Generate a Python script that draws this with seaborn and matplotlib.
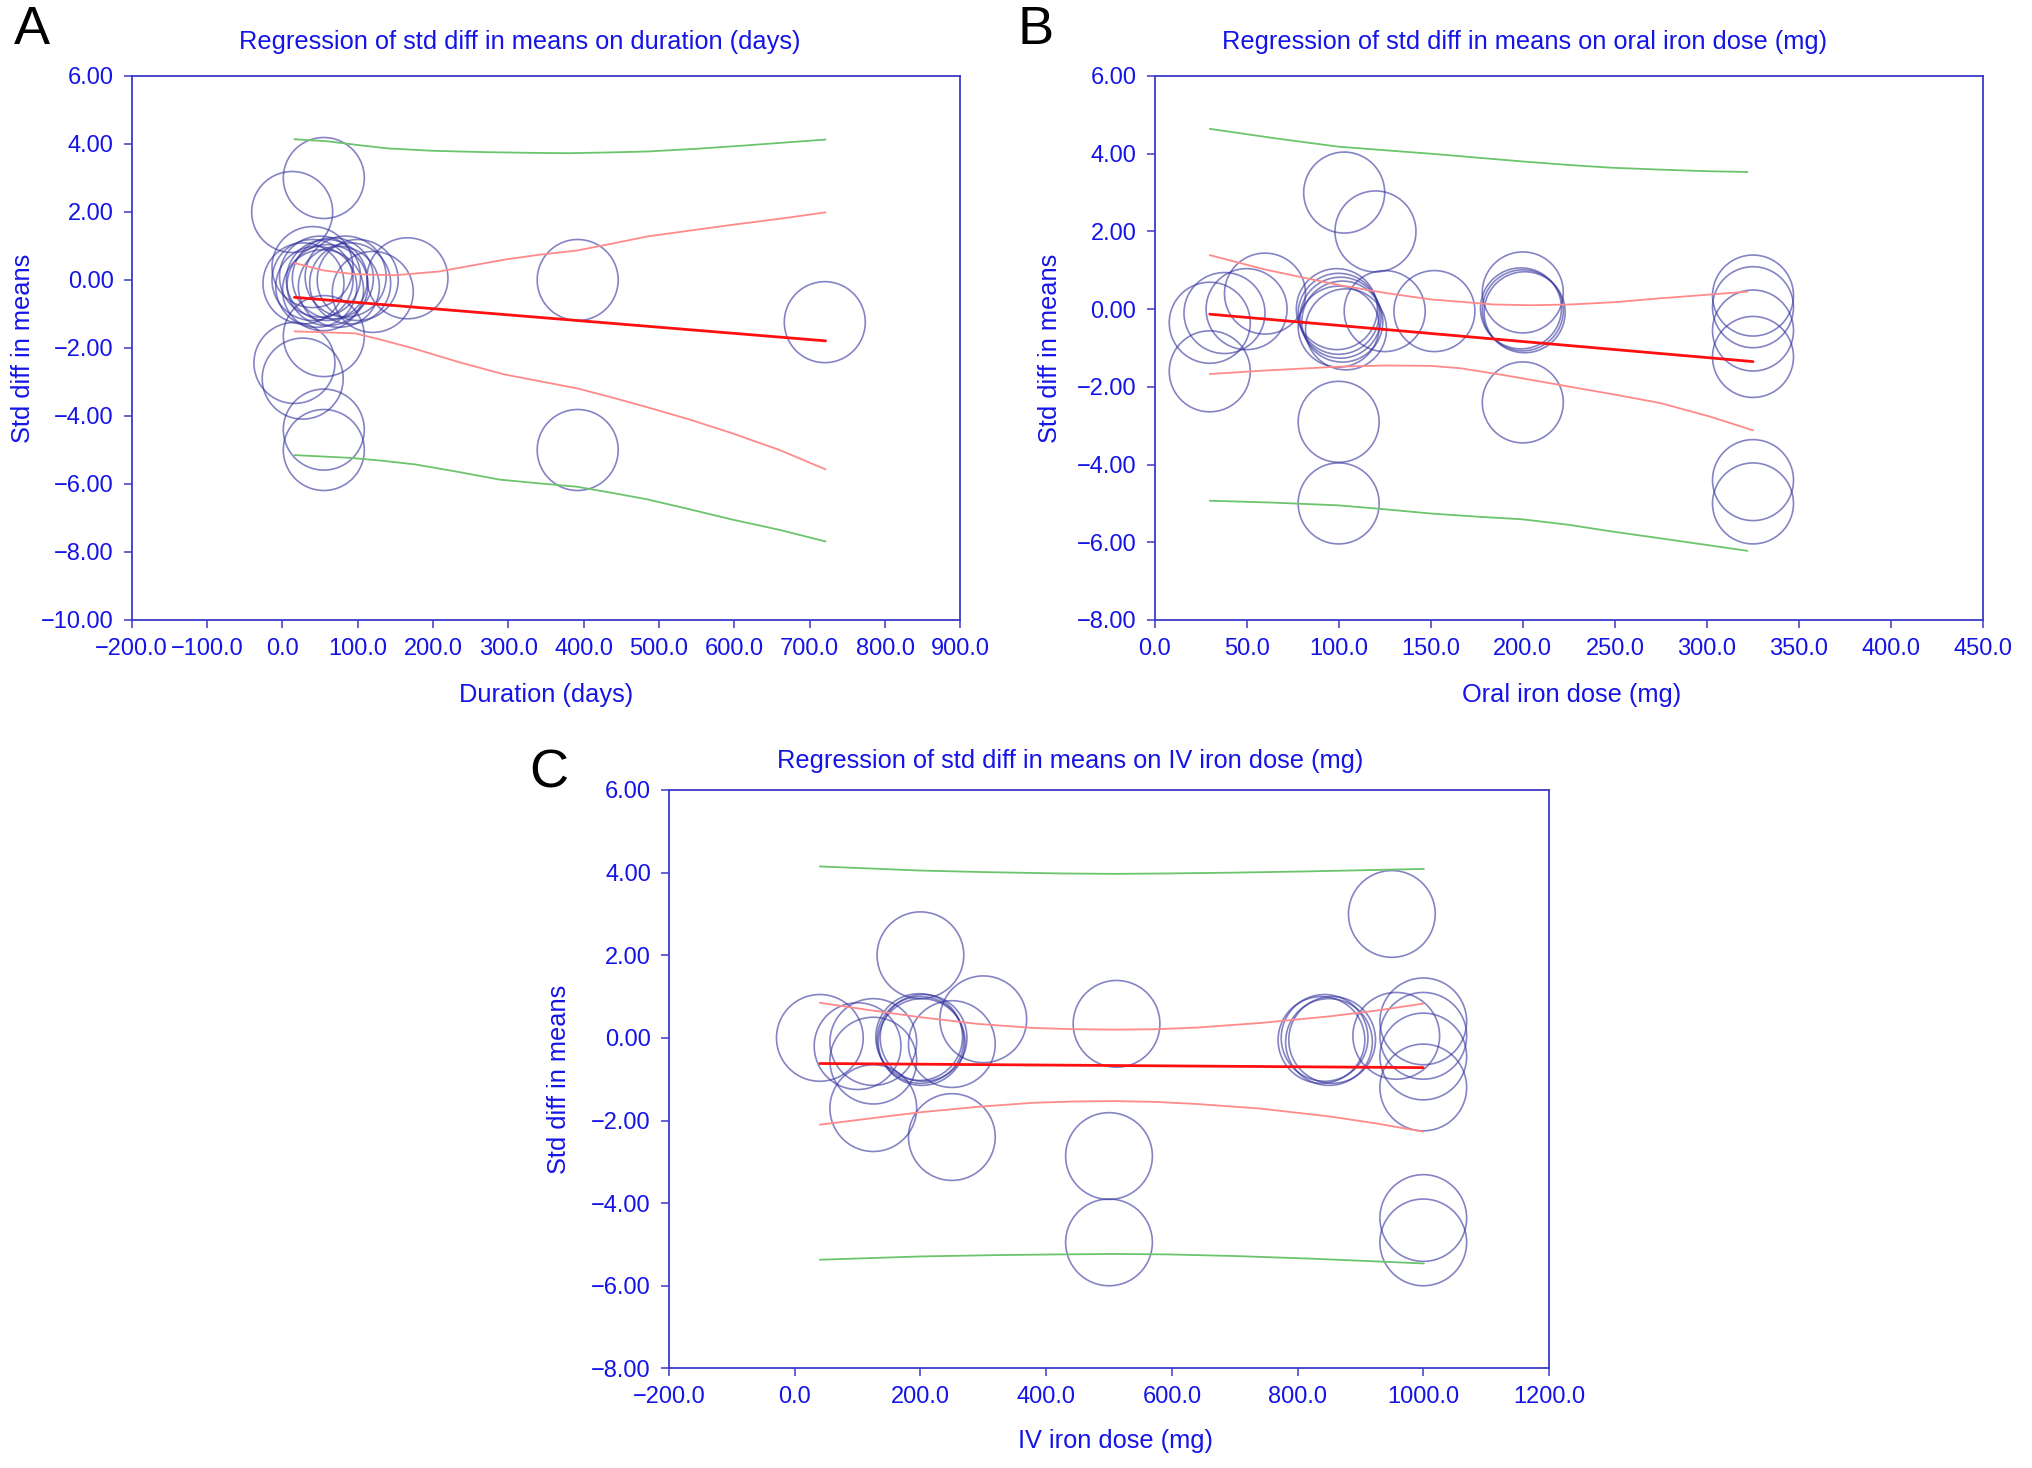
import numpy as np
import pandas as pd
import matplotlib
matplotlib.use("Agg")
import matplotlib.pyplot as plt
from matplotlib.ticker import FuncFormatter
import seaborn as sns

# ---- Panel A: duration (days) ----
dur_x = [13, 55, 28, 40, 40, 45, 50, 54, 59, 60, 67, 75, 84, 90, 100, 120,
         166, 392, 720, 55, 16, 27, 55, 55, 392]
dur_y = [2.0, 3.0, -0.1, 0.38, 0.0, -0.2, 0.1, -0.3, 0.0, -0.15, 0.05, -0.2, 0.1, -0.1, 0.0, -0.35,
         0.05, 0.0, -1.24, -1.65, -2.44, -2.9, -4.4, -5.0, -5.0]
dur_fit_x = [16, 721]
dur_fit_y = [-0.51, -1.79]
dur_ci_x = [16, 55, 97, 149, 208, 250, 295, 340, 392, 440, 484, 540, 596, 660, 721]
dur_ci_hi = [0.5, 0.28, 0.17, 0.14, 0.25, 0.42, 0.6, 0.74, 0.87, 1.08, 1.28, 1.45, 1.62, 1.8, 1.99]
dur_ci_lo_x = [16, 97, 135, 175, 235, 295, 340, 392, 440, 484, 540, 596, 660, 721]
dur_ci_lo = [-1.51, -1.57, -1.78, -2.02, -2.42, -2.78, -2.97, -3.19, -3.47, -3.74, -4.1, -4.5, -5.0, -5.57]
dur_pi_hi_x = [16, 60, 100, 140, 200, 270, 330, 380, 430, 485, 550, 610, 665, 721]
dur_pi_hi = [4.14, 4.08, 3.97, 3.87, 3.8, 3.76, 3.74, 3.73, 3.75, 3.78, 3.86, 3.95, 4.04, 4.13]
dur_pi_lo_x = [16, 89, 130, 175, 230, 288, 340, 391, 440, 484, 540, 596, 660, 721]
dur_pi_lo = [-5.15, -5.23, -5.31, -5.42, -5.63, -5.87, -5.98, -6.08, -6.27, -6.45, -6.74, -7.04, -7.35, -7.69]

# ---- Panel B: oral iron dose (mg) ----
oral_x = [30, 30, 38, 50, 60, 99, 100, 101, 102, 100, 104, 103, 120, 100, 100,
          125, 152, 200, 199, 200, 201, 200, 325, 325, 325, 325, 325, 325]
oral_y = [-0.35, -1.6, -0.1, 0.0, 0.4, 0.0, -0.12, -0.22, -0.32, -0.45, -0.52, 3.0, 2.0, -2.9, -5.0,
          -0.05, -0.05, 0.43, 0.02, -0.03, -0.08, -2.4, 0.35, 0.05, -0.55, -1.23, -4.4, -5.0]
oral_fit_x = [30, 325]
oral_fit_y = [-0.13, -1.35]
oral_ci_x = [30, 60, 100, 125, 150, 166, 184, 205, 226, 250, 275, 300, 322]
oral_ci_hi = [1.39, 1.02, 0.62, 0.42, 0.25, 0.19, 0.12, 0.1, 0.12, 0.18, 0.28, 0.37, 0.45]
oral_ci_lo_x = [30, 60, 100, 125, 150, 166, 190, 220, 250, 275, 302, 325]
oral_ci_lo = [-1.67, -1.58, -1.48, -1.45, -1.46, -1.52, -1.7, -1.95, -2.2, -2.42, -2.77, -3.12]
oral_pi_x = [30, 65, 100, 125, 150, 175, 200, 225, 248, 275, 300, 322]
oral_pi_hi = [4.64, 4.4, 4.18, 4.09, 4.0, 3.9, 3.8, 3.71, 3.64, 3.59, 3.55, 3.53]
oral_pi_lo = [-4.93, -4.98, -5.05, -5.15, -5.26, -5.34, -5.41, -5.55, -5.72, -5.9, -6.07, -6.22]

# ---- Panel C: IV iron dose (mg) ----
iv_x = [40, 100, 125, 125, 125, 200, 198, 200, 202, 205, 250, 300, 250, 512, 500, 500,
        838, 843, 850, 855, 950, 957, 1000, 1000, 1000, 1000, 1000, 1000]
iv_y = [0.0, -0.2, -0.1, -0.55, -1.7, 2.0, 0.02, -0.05, -0.1, 0.0, -0.15, 0.45, -2.4, 0.34, -2.86, -4.95,
        -0.05, 0.0, -0.1, -0.05, 3.0, 0.05, 0.4, 0.05, -0.45, -1.2, -4.36, -4.95]
iv_fit_x = [40, 1000]
iv_fit_y = [-0.62, -0.72]
iv_ci_x = [40, 120, 200, 290, 380, 445, 510, 575, 640, 740, 850, 925, 1000]
iv_ci_hi = [0.85, 0.67, 0.5, 0.34, 0.24, 0.21, 0.2, 0.21, 0.25, 0.36, 0.52, 0.66, 0.83]
iv_ci_lo = [-2.1, -1.95, -1.8, -1.67, -1.57, -1.54, -1.53, -1.55, -1.6, -1.71, -1.9, -2.07, -2.27]
iv_pi_x = [40, 120, 201, 310, 424, 510, 592, 700, 815, 910, 1001]
iv_pi_hi = [4.15, 4.1, 4.05, 4.01, 3.98, 3.97, 3.98, 4.0, 4.03, 4.06, 4.09]
iv_pi_lo = [-5.37, -5.33, -5.29, -5.26, -5.24, -5.23, -5.24, -5.28, -5.34, -5.4, -5.46]

sns.set_style("white")
plt.rcParams["font.family"] = ["Liberation Sans", "DejaVu Sans"]

BLUE = "#1414e6"
SPINE = "#3a3ac8"
W, H = 2032, 1468
fig = plt.figure(figsize=(W / 100, H / 100), dpi=100)


def px_axes(left, top, right, bottom):
    return fig.add_axes([left / W, 1 - bottom / H, (right - left) / W, (bottom - top) / H])


def fmt(dec):
    return FuncFormatter(lambda v, p: f"{v:.{dec}f}".replace("-", "\u2212"))


def draw_panel(ax, x, y, fx, fy, cx, chi, clx, clo, phx, phi, plx, plo, size):
    sns.scatterplot(x=x, y=y, ax=ax, s=size, facecolor="none",
                    edgecolor=(0.2, 0.2, 0.62, 0.6), linewidth=1.2, zorder=2)
    for xs, ys, col, lw in [(cx, chi, "#ff8a8a", 1.3), (clx, clo, "#ff8a8a", 1.3),
                            (phx, phi, "#6cc46c", 1.3), (plx, plo, "#6cc46c", 1.3),
                            (fx, fy, "#ff1010", 2.0)]:
        sns.lineplot(x=xs, y=ys, ax=ax, color=col, linewidth=lw, estimator=None,
                     legend=False, zorder=3)
    for s in ax.spines.values():
        s.set_color(SPINE)
        s.set_linewidth(1.3)
    ax.tick_params(colors=SPINE, labelcolor=BLUE, labelsize=17, length=6, width=1.1,
                   pad=7, direction="out")
    ax.tick_params(axis="x", which="both", bottom=True)
    ax.tick_params(axis="y", which="both", left=True)
    ax.xaxis.set_major_formatter(fmt(1))
    ax.yaxis.set_major_formatter(fmt(2))
    ax.set_xlabel("")
    ax.set_ylabel("")


# A
axA = px_axes(131.7, 76, 960.4, 620)
draw_panel(axA, dur_x, dur_y, dur_fit_x, dur_fit_y, dur_ci_x, dur_ci_hi, dur_ci_lo_x, dur_ci_lo,
           dur_pi_hi_x, dur_pi_hi, dur_pi_lo_x, dur_pi_lo, 3400)
axA.set_xlim(-200, 900)
axA.set_ylim(-10, 6)
axA.set_xticks(np.arange(-200, 901, 100))
axA.set_yticks(np.arange(-10, 7, 2))

# B
axB = px_axes(1154.5, 76, 1983.2, 620)
draw_panel(axB, oral_x, oral_y, oral_fit_x, oral_fit_y, oral_ci_x, oral_ci_hi, oral_ci_lo_x, oral_ci_lo,
           oral_pi_x, oral_pi_hi, oral_pi_x, oral_pi_lo, 3400)
axB.set_xlim(0, 450)
axB.set_ylim(-8, 6)
axB.set_xticks(np.arange(0, 451, 50))
axB.set_yticks(np.arange(-8, 7, 2))

# C
axC = px_axes(669, 790, 1549, 1368.4)
draw_panel(axC, iv_x, iv_y, iv_fit_x, iv_fit_y, iv_ci_x, iv_ci_hi, iv_ci_x, iv_ci_lo,
           iv_pi_x, iv_pi_hi, iv_pi_x, iv_pi_lo, 3900)
axC.set_xlim(-200, 1200)
axC.set_ylim(-8, 6)
axC.set_xticks(np.arange(-200, 1201, 200))
axC.set_yticks(np.arange(-8, 7, 2))


def ftext(x, y, s, **kw):
    fig.text(x / W, 1 - y / H, s, **kw)


ftext(520, 42, "Regression of std diff in means on duration (days)", color=BLUE, fontsize=18.3,
      ha="center", va="center")
ftext(1525, 42, "Regression of std diff in means on oral iron dose (mg)", color=BLUE, fontsize=18.3,
      ha="center", va="center")
ftext(1070, 761, "Regression of std diff in means on IV iron dose (mg)", color=BLUE, fontsize=18.3,
      ha="center", va="center")

ftext(546, 695, "Duration (days)", color=BLUE, fontsize=18.3, ha="center", va="center")
ftext(1572, 695, "Oral iron dose (mg)", color=BLUE, fontsize=18.3, ha="center", va="center")
ftext(1116, 1441, "IV iron dose (mg)", color=BLUE, fontsize=18.3, ha="center", va="center")

ftext(23, 348, "Std diff in means", color=BLUE, fontsize=18.3, ha="center", va="center", rotation=90)
ftext(1050, 348, "Std diff in means", color=BLUE, fontsize=18.3, ha="center", va="center", rotation=90)
ftext(559, 1079, "Std diff in means", color=BLUE, fontsize=18.3, ha="center", va="center", rotation=90)

ftext(14, 30, "A", color="black", fontsize=39, ha="left", va="center")
ftext(1017, 30, "B", color="black", fontsize=39, ha="left", va="center")
ftext(529, 773, "C", color="black", fontsize=39, ha="left", va="center")

fig.savefig("out.png", dpi=100, facecolor="white")
